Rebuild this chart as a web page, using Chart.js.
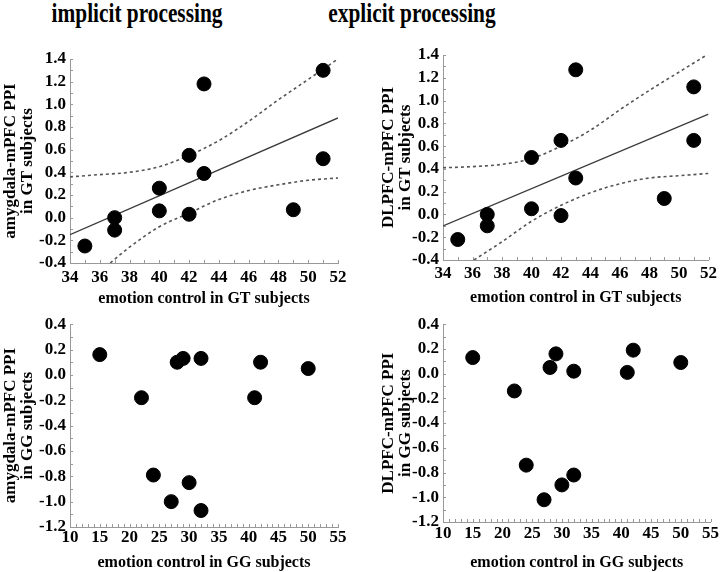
<!DOCTYPE html>
<html lang="en">
<head>
<meta charset="UTF-8">
<title>implicit / explicit processing</title>
<script src="https://cdn.jsdelivr.net/npm/chart.js@4.4.0/dist/chart.umd.min.js"></script>
<style>
    body {
        margin: 0;
        background: #fff;
        width: 720px;
        height: 572px;
        position: relative;
        overflow: hidden;
        font-family: 'Liberation Serif', 'Times New Roman', serif;
    }
    .heading {
        position: absolute;
        top: -2px;
        font-size: 27px;
        font-weight: bold;
        line-height: 30px;
        white-space: nowrap;
        transform: translateX(-50%) scaleX(0.79);
    }
    canvas { position: absolute; }
</style>
</head>
<body>
<div class="heading" style="left:137px">implicit processing</div>
<div class="heading" style="left:412px">explicit processing</div>

<canvas id="implicitGT" width="360" height="270" style="left:0;top:40px"></canvas>
<canvas id="explicitGT" width="360" height="270" style="left:360px;top:40px"></canvas>
<canvas id="implicitGG" width="360" height="262" style="left:0;top:310px"></canvas>
<canvas id="explicitGG" width="360" height="262" style="left:360px;top:310px"></canvas>

<script>
// values
const gtEmotion     = [35, 37, 37, 40, 40, 42, 42, 43, 43, 49, 51, 51];
const gtAmygdalaPPI = [-0.25, 0.00, -0.11, 0.26, 0.06, 0.55, 0.03, 1.18, 0.39, 0.07, 1.30, 0.52];
const gtDlpfcPPI    = [-0.22, 0.00, -0.10, 0.50, 0.05, 0.65, -0.01, 1.27, 0.32, 0.14, 1.12, 0.65];

const ggEmotion     = [15, 22, 24, 27, 28, 29, 30, 32, 32, 41, 42, 50];
const ggAmygdalaPPI = [0.16, -0.18, -0.79, -1.00, 0.10, 0.13, -0.85, 0.13, -1.07, -0.18, 0.10, 0.05];
const ggDlpfcPPI    = [0.13, -0.14, -0.74, -1.02, 0.05, 0.16, -0.90, 0.02, -0.82, 0.01, 0.19, 0.09];

// regression line and dotted confidence bands (GT panels)
const fitX = [34, 52];
const implicitFitY = [-0.15, 0.88];
const explicitFitY = [-0.10, 0.88];

const upperX = [34, 36, 38, 40, 42, 44, 46, 48, 50, 52];
const implicitUpperY = [0.36, 0.38, 0.40, 0.45, 0.55, 0.68, 0.85, 1.04, 1.22, 1.40];
const explicitUpperY = [0.41, 0.42, 0.44, 0.49, 0.60, 0.74, 0.92, 1.09, 1.25, 1.41];

const implicitLowerX = [36.7, 38, 40, 42, 44, 46, 48, 50, 52];
const implicitLowerY = [-0.40, -0.26, -0.08, 0.04, 0.16, 0.24, 0.29, 0.33, 0.35];
const explicitLowerX = [36.1, 38, 40, 42, 44, 46, 48, 50, 52];
const explicitLowerY = [-0.40, -0.24, -0.06, 0.08, 0.19, 0.27, 0.32, 0.34, 0.36];

// tick labels
const gtXTicks = [34, 36, 38, 40, 42, 44, 46, 48, 50, 52];
const ggXTicks = [10, 15, 20, 25, 30, 35, 40, 45, 50, 55];
const gtYTicks = [-0.4, -0.2, 0, 0.2, 0.4, 0.6, 0.8, 1.0, 1.2, 1.4];
const ggYTicks = [-1.2, -1.0, -0.8, -0.6, -0.4, -0.2, 0, 0.2, 0.4];

Chart.defaults.font.family = "'Liberation Serif', 'Times New Roman', serif";
Chart.defaults.color = '#000';

const pts = (xs, ys) => xs.map((x, i) => ({ x: x, y: ys[i] }));

// small inward tick marks along both axes
const minorTicks = {
    id: 'minorTicks',
    beforeDatasetsDraw(chart, args, opts) {
        const { ctx, chartArea: a, scales: { x, y } } = chart;
        ctx.save();
        ctx.strokeStyle = '#999';
        ctx.lineWidth = 1;
        ctx.beginPath();
        for (let v = x.min; v <= x.max + 1e-9; v += opts.xStep) {
            const px = Math.round(x.getPixelForValue(v)) + 0.5;
            ctx.moveTo(px, a.bottom);
            ctx.lineTo(px, a.bottom - 3);
        }
        for (let v = y.min; v <= y.max + 1e-9; v += opts.yStep) {
            const py = Math.round(y.getPixelForValue(v)) + 0.5;
            ctx.moveTo(a.left, py);
            ctx.lineTo(a.left + 3, py);
        }
        ctx.stroke();
        ctx.restore();
    }
};

function panel(id, o) {
    const datasets = [{
        type: 'scatter',
        data: pts(o.x, o.y),
        backgroundColor: '#000',
        borderColor: '#000',
        pointRadius: 7,
        pointHoverRadius: 7,
        clip: false
    }];
    if (o.fit) {
        datasets.push({
            type: 'line', data: pts(fitX, o.fit),
            borderColor: '#3a3a3a', borderWidth: 1.3, pointRadius: 0, fill: false
        });
        datasets.push({
            type: 'line', data: pts(upperX, o.upper),
            borderColor: '#555', borderWidth: 1.6, borderDash: [3, 3],
            pointRadius: 0, fill: false, cubicInterpolationMode: 'monotone'
        });
        datasets.push({
            type: 'line', data: pts(o.lowerX, o.lower),
            borderColor: '#555', borderWidth: 1.6, borderDash: [3, 3],
            pointRadius: 0, fill: false, cubicInterpolationMode: 'monotone'
        });
    }

    new Chart(document.getElementById(id), {
        type: 'scatter',
        data: { datasets: datasets },
        options: {
            responsive: false,
            animation: false,
            layout: { padding: o.pad },
            plugins: {
                legend: { display: false },
                tooltip: { enabled: false },
                minorTicks: { xStep: 1, yStep: 0.1 }
            },
            scales: {
                x: {
                    type: 'linear',
                    min: o.xTicks[0],
                    max: o.xTicks[o.xTicks.length - 1],
                    afterBuildTicks: s => { s.ticks = o.xTicks.map(v => ({ value: v })); },
                    afterFit: s => { s.height = o.xh; },
                    grid: { display: false, drawTicks: false },
                    border: { color: '#999', width: 1 },
                    ticks: {
                        padding: o.xtp, autoSkip: false, maxRotation: 0,
                        font: { size: 17, weight: 'bold' }, callback: v => String(v)
                    },
                    title: {
                        display: true, text: o.xTitle,
                        font: { size: 16, weight: 'bold' },
                        padding: { top: 0, bottom: o.xtb }
                    }
                },
                y: {
                    type: 'linear',
                    min: o.yTicks[0],
                    max: o.yTicks[o.yTicks.length - 1],
                    afterBuildTicks: s => { s.ticks = o.yTicks.map(v => ({ value: v })); },
                    afterFit: s => { s.width = o.yw; },
                    grid: { display: false, drawTicks: false },
                    border: { color: '#999', width: 1 },
                    ticks: {
                        padding: 4, autoSkip: false,
                        font: { size: 17, weight: 'bold' }, callback: v => Number(v).toFixed(1)
                    },
                    title: {
                        display: true, text: o.yTitle,
                        font: { size: 17, weight: 'bold', lineHeight: 1.0 },
                        padding: { top: o.ytp, bottom: 0 }
                    }
                }
            }
        },
        plugins: [minorTicks]
    });
}

panel('implicitGT', {
    x: gtEmotion, y: gtAmygdalaPPI,
    fit: implicitFitY, upper: implicitUpperY, lowerX: implicitLowerX, lower: implicitLowerY,
    xTicks: gtXTicks, yTicks: gtYTicks,
    xTitle: 'emotion control in GT subjects',
    yTitle: ['amygdala-mPFC PPI', 'in GT subjects'],
    pad: { top: 19, right: 22, left: 0, bottom: 0 },
    yw: 70, xh: 47, xtp: 4, xtb: 2, ytp: 2
});

panel('explicitGT', {
    x: gtEmotion, y: gtDlpfcPPI,
    fit: explicitFitY, upper: explicitUpperY, lowerX: explicitLowerX, lower: explicitLowerY,
    xTicks: gtXTicks, yTicks: gtYTicks,
    xTitle: 'emotion control in GT subjects',
    yTitle: ['DLPFC-mPFC PPI', 'in GT subjects'],
    pad: { top: 15, right: 8, left: 0, bottom: 0 },
    yw: 83, xh: 50, xtp: 3, xtb: 3, ytp: 20
});

panel('implicitGG', {
    x: ggEmotion, y: ggAmygdalaPPI,
    xTicks: ggXTicks, yTicks: ggYTicks,
    xTitle: 'emotion control in GG subjects',
    yTitle: ['amygdala-mPFC PPI', 'in GG subjects'],
    pad: { top: 12, right: 22, left: 0, bottom: 0 },
    yw: 70, xh: 45, xtp: 0, xtb: 0, ytp: 2
});

panel('explicitGG', {
    x: ggEmotion, y: ggDlpfcPPI,
    xTicks: ggXTicks, yTicks: ggYTicks,
    xTitle: 'emotion control in GG subjects',
    yTitle: ['DLPFC-mPFC PPI', 'in GG subjects'],
    pad: { top: 8, right: 8, left: 0, bottom: 0 },
    yw: 83, xh: 50, xtp: 1, xtb: 0, ytp: 20
});
</script>
</body>
</html>
